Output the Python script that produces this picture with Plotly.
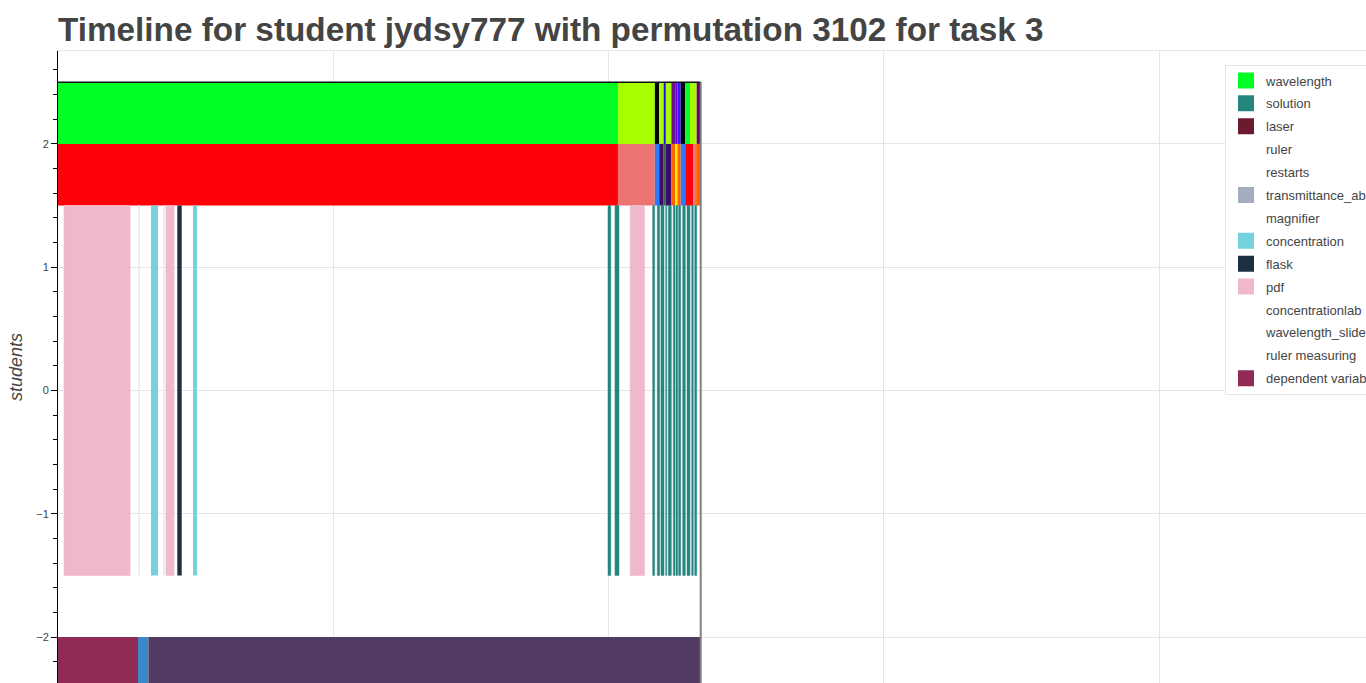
import plotly.graph_objects as go

# ---------------- data (times in seconds) ----------------
title_text = "Timeline for student jydsy777 with permutation 3102 for task 3"

legend_names = ["wavelength", "solution", "laser", "ruler", "restarts",
                "transmittance_absorbance", "magnifier", "concentration", "flask",
                "pdf", "concentrationlab", "wavelength_slider", "ruler measuring",
                "dependent variable"]
legend_colors = ["#00ff24", "#25867f", "#6b1a30", "rgba(0,0,0,0)", "rgba(0,0,0,0)",
                 "#a2aebd", "rgba(0,0,0,0)", "#74d2df", "#1e2f44",
                 "#f0b9cb", "rgba(0,0,0,0)", "rgba(0,0,0,0)", "rgba(0,0,0,0)",
                 "#8f2b55"]

# wavelength colour band
wl_start = [0, 1017, 1084, 1092, 1100, 1104, 1114, 1121, 1125, 1131, 1139, 1148, 1160]
wl_end = [1017, 1084, 1092, 1100, 1104, 1114, 1121, 1125, 1131, 1139, 1148, 1160, 1167.3]
wl_colors = ["#00ff24", "#a6ff00", "#000000", "#a6ff00", "#2a00ff", "#a6ff00", "#6c0f8f",
             "#6a00d8", "#3a16ff", "#000000", "#00ff24", "#a6ff00", "#65007a"]

# laser colour band
laser_start = [0, 1017, 1084, 1092, 1100, 1104, 1114, 1121, 1125, 1131, 1139, 1154, 1159]
laser_end = [1017, 1084, 1092, 1100, 1104, 1114, 1121, 1125, 1131, 1139, 1154, 1159, 1167.3]
laser_colors = ["#ff0008", "#ed7571", "#2b7bff", "#3b0b6e", "#3a6b30", "#3b0b6e", "#ff6000",
                "#ffee00", "#ff6000", "#2b7bff", "#ff0008", "#ed7571", "#ff6000"]

# action events
pdf_start = [10.9, 196.1, 1039.2]
pdf_end = [131.0, 210.7, 1065.2]
conc_start = [168.9, 245.2]
conc_end = [181.6, 252.5]
flask_start = [216.7]
flask_end = [224.7]
restart_start = [145.7, 191.6]
restart_end = [147.5, 193.4]
sol_start = [998.9, 1011.6, 1080.1, 1088.4, 1095.2, 1103.7, 1108.4, 1117.5, 1122.4,
             1127.3, 1134.6, 1142.4, 1150.9, 1156.4]
sol_end = [1004.0, 1018.9, 1083.7, 1092.8, 1100.6, 1105.5, 1113.9, 1120.6, 1125.5,
           1131.0, 1139.3, 1147.8, 1153.8, 1160.0]

# dependent variable band
dep_start = [0, 145.3, 164.2]
dep_end = [145.3, 164.2, 1167.3]
dep_colors = ["#8f2b55", "#3e87c8", "#513b63"]

session_end = 1167.3

# ---------------- figure ----------------
W, H = 1366, 683
ML, MT = 58, 51

fig = go.Figure()


def band(starts, ends, colors, yc, h, line=None):
    fig.add_trace(go.Bar(
        orientation="h",
        y=[yc] * len(starts),
        base=starts,
        x=[e - s for s, e in zip(starts, ends)],
        width=[h] * len(starts),
        marker=dict(color=colors, line=line or dict(width=0)),
        showlegend=False, hoverinfo="skip"))


band(wl_start, wl_end, wl_colors, 2.25, 0.5)
band(laser_start, laser_end, laser_colors, 1.75, 0.5)
band(restart_start, restart_end, ["#eeeeee"] * len(restart_start), 0, 3)
band(pdf_start, pdf_end, ["#f0b9cb"] * len(pdf_start), 0, 3,
     dict(width=1, color="rgba(240,185,203,0.6)"))
band(conc_start, conc_end, ["#74d2df"] * len(conc_start), 0, 3)
band(flask_start, flask_end, ["#1e2f44"] * len(flask_start), 0, 3)
band(sol_start, sol_end, ["#25867f"] * len(sol_start), 0, 3,
     dict(width=1, color="rgba(37,134,127,0.45)"))
band(dep_start, dep_end, dep_colors, -2.25, 0.5)

# frame of the session
fig.add_trace(go.Scatter(x=[0, session_end], y=[2.5, 2.5], mode="lines",
                         line=dict(color="#111111", width=1.5),
                         showlegend=False, hoverinfo="skip"))
fig.add_trace(go.Scatter(x=[session_end, session_end], y=[2.5, -2.5], mode="lines",
                         line=dict(color="#808080", width=2),
                         showlegend=False, hoverinfo="skip"))

# legend entries
for i, (n, c) in enumerate(zip(legend_names, legend_colors)):
    fig.add_trace(go.Scatter(x=[None], y=[None], mode="markers", name=n,
                             legendgroup=f"g{i}",
                             marker=dict(symbol="square", size=16, color=c,
                                         line=dict(width=0))))

pw, ph = W - ML, H - MT
fig.update_layout(
    width=W, height=H,
    margin=dict(l=ML, r=0, t=MT, b=0, autoexpand=False),
    paper_bgcolor="white", plot_bgcolor="white",
    barmode="overlay",
    font=dict(family="Liberation Sans, Arial, sans-serif", color="#444444"),
    title=dict(text=title_text, x=ML / W, xanchor="left", xref="container",
               y=1 - 29 / H, yanchor="middle", yref="container",
               font=dict(size=33.3, color="#444444", weight="bold")),
    legend=dict(x=(1225 - ML) / pw, xanchor="left", y=(ph - 13.5) / ph, yanchor="top",
                bgcolor="white", bordercolor="#e5e5e5", borderwidth=1,
                font=dict(size=13, color="#444444"),
                traceorder="grouped", tracegroupgap=3),
    xaxis=dict(range=[0, 2375.6], tick0=0, dtick=500, showgrid=True,
               gridcolor="#e5e5e5", gridwidth=1, zeroline=False,
               showticklabels=False, ticks="", side="top", automargin=False,
               showline=True, linecolor="#e5e5e5", linewidth=1),
    yaxis=dict(range=[-2.373, 2.754], tick0=0, dtick=1, showgrid=True,
               gridcolor="#e5e5e5", gridwidth=1, zeroline=False, automargin=False,
               showline=True, linecolor="#000000", linewidth=1,
               ticks="outside", ticklen=6, tickcolor="#000000", tickwidth=1,
               tickfont=dict(size=11, color="#444444"), ticklabelstandoff=0,
               minor=dict(dtick=0.2, tick0=0, ticks="outside", ticklen=4,
                          tickcolor="#000000", tickwidth=1, showgrid=False),
               title=dict(text="students", standoff=8,
                          font=dict(size=18, style="italic", color="#444444"))),
)

fig.write_html("out.html",
               config={"displayModeBar": False},
               post_script="document.body.style.margin='0';"
                           "document.body.style.overflow='hidden';")
